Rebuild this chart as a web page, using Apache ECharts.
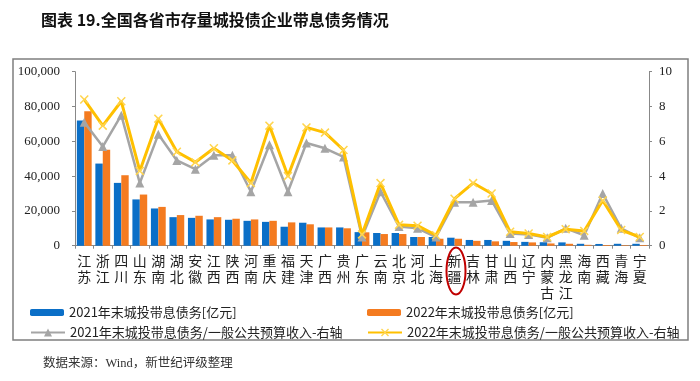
<!DOCTYPE html>
<html><head><meta charset="utf-8">
<script src="https://cdn.jsdelivr.net/npm/echarts@6/dist/echarts.min.js"></script>
<style>html,body{margin:0;padding:0;background:#fff}#c{width:700px;height:381px}</style>
</head><body><div id="c"></div>
<script>
const categories = ['江苏','浙江','四川','山东','湖南','湖北','安徽','江西','陕西','河南','重庆','福建','天津','广西','贵州','广东','云南','北京','河北','上海','新疆','吉林','甘肃','山西','辽宁','内蒙古','黑龙江','海南','西藏','青海','宁夏'];
const debt2021 = [72000,47200,36100,26600,21400,16400,16000,15100,14900,14300,13700,10900,13200,10500,10500,7800,7300,7300,5000,5000,4600,3300,3300,2800,2200,2000,1900,1100,1000,1100,1100];
const debt2022 = [77300,55200,40500,29400,22300,17600,17200,16400,15500,15100,14300,13400,12300,10500,10000,7700,6700,6700,5000,4000,4000,2800,2500,2100,1900,1300,1100,500,400,300,400];
const ratio2021 = [7.1,5.7,7.5,3.6,6.4,4.9,4.4,5.2,5.2,3.1,5.8,3.1,5.9,5.6,5.1,0.5,3.1,1.1,1.0,0.5,2.5,2.5,2.6,0.7,0.65,0.45,1.0,0.6,3.0,1.0,0.45];
const ratio2022 = [8.4,6.9,8.3,4.3,7.3,5.4,4.8,5.6,4.9,3.6,6.9,4.0,6.8,6.5,5.5,0.65,3.6,1.2,1.15,0.6,2.7,3.6,3.0,0.8,0.7,0.5,0.95,0.85,2.6,0.9,0.5];
const names = ['2021年末城投带息债务[亿元]','2022年末城投带息债务[亿元]','2021年末城投带息债务/一般公共预算收入-右轴','2022年末城投带息债务/一般公共预算收入-右轴'];
const titleText = '图表 19.全国各省市存量城投债企业带息债务情况';
const sourceText = '数据来源：Wind，新世纪评级整理';

const cjk = '"Noto Sans CJK SC", sans-serif';
const serif = '"Liberation Serif", "Noto Sans CJK SC", serif';
const xSym = 'path://M0,1.2 L1.2,0 L5,3.8 L8.8,0 L10,1.2 L6.2,5 L10,8.8 L8.8,10 L5,6.2 L1.2,10 L0,8.8 L3.8,5Z';

const chart = echarts.init(document.getElementById('c'), null, {renderer:'canvas'});
const legendBase = {itemWidth:34, textStyle:{fontFamily:cjk, fontSize:13, color:'#222'}, itemGap:0};
chart.setOption({
  animation:false,
  title:{text:titleText, left:36, top:7, textStyle:{fontFamily:cjk, fontWeight:'bold', fontSize:16, color:'#111'}},
  graphic:[
    {type:'rect', shape:{x:13, y:59, width:675, height:281}, style:{fill:'none', stroke:'#7f7f7f', lineWidth:1.5}, z:-1},
    {type:'ellipse', shape:{cx:456, cy:271, rx:9.5, ry:23.5}, style:{fill:'none', stroke:'#c00000', lineWidth:2}, z:10},
    {type:'text', left:43, top:357, style:{text:sourceText, font:'12.5px ' + serif, fill:'#333'}}
  ],
  legend:[
    Object.assign({}, legendBase, {left:25, top:301, itemHeight:7, data:[names[0]]}),
    Object.assign({}, legendBase, {left:362, top:301, itemHeight:7, data:[names[1]]}),
    Object.assign({}, legendBase, {left:25, top:321, itemHeight:10, data:[names[2]]}),
    Object.assign({}, legendBase, {left:362, top:321, itemHeight:10, data:[names[3]]})
  ],
  grid:{left:75, right:51, top:71.7, bottom:135.3, containLabel:false},
  xAxis:{type:'category', data:categories,
    axisLine:{lineStyle:{color:'#888', width:1}},
    axisTick:{show:true, interval:0, length:3, lineStyle:{color:'#888'}},
    axisLabel:{interval:0, margin:7, fontFamily:cjk, fontSize:14, lineHeight:16, color:'#222',
      formatter:v=>v.split('').join('\n')}},
  yAxis:[
    {type:'value', min:0, max:100000, interval:20000, splitLine:{show:false},
     axisLine:{show:true, lineStyle:{color:'#888'}}, axisTick:{show:true, length:3, lineStyle:{color:'#888'}},
     axisLabel:{margin:15, fontFamily:serif, fontSize:13, color:'#222', formatter:v=>v.toLocaleString('en-US')}},
    {type:'value', min:0, max:10, interval:2, splitLine:{show:false}, position:'right',
     axisLine:{show:true, lineStyle:{color:'#888'}}, axisTick:{show:true, length:3, lineStyle:{color:'#888'}},
     axisLabel:{margin:10, fontFamily:serif, fontSize:13, color:'#222'}}
  ],
  series:[
    {name:names[0], type:'bar', data:debt2021, barWidth:'40%', barGap:'0%', itemStyle:{color:'#0b6fc7'}},
    {name:names[1], type:'bar', data:debt2022, barWidth:'40%', barGap:'0%', itemStyle:{color:'#f47b20'}},
    {name:names[2], type:'line', yAxisIndex:1, data:ratio2021, symbol:'triangle', symbolSize:9,
     lineStyle:{color:'#a5a5a5', width:2.5}, itemStyle:{color:'#a5a5a5'}, z:3},
    {name:names[3], type:'line', yAxisIndex:1, data:ratio2022, symbol:xSym, symbolSize:9,
     lineStyle:{color:'#ffc000', width:3}, itemStyle:{color:'#ffd54f'}, z:4}
  ]
});
</script></body></html>
